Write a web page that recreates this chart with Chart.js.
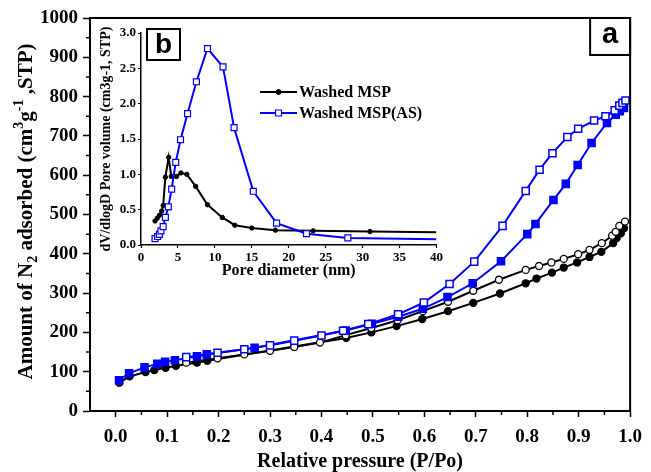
<!DOCTYPE html>
<html>
<head>
<meta charset="utf-8">
<script src="https://cdn.jsdelivr.net/npm/chart.js@4.4.0/dist/chart.umd.min.js"></script>
<style>
  body { margin: 0; background: #fff; }
  #wrap { position: relative; width: 651px; height: 472px; }
  #main { position: absolute; left: 0; top: 0; }
  #inset { position: absolute; left: 95px; top: 20px; }
</style>
</head>
<body>
<div id="wrap">
  <canvas id="main" width="651" height="472"></canvas>
  <canvas id="inset" width="350" height="260"></canvas>
</div>
<script>
// ---- isotherm (main panel a) ----
// Washed MSP, adsorption branch (filled circles)
const pMspAds = [0.007, 0.027, 0.058, 0.075, 0.097, 0.117, 0.158, 0.178, 0.448, 0.497, 0.546, 0.596, 0.646, 0.695, 0.747, 0.797, 0.818, 0.848, 0.871, 0.897, 0.921, 0.944, 0.967, 0.974, 0.982, 0.988];
const vMspAds = [72, 88, 99, 104, 110, 115, 123, 128, 186, 200, 216, 234, 254, 275, 299, 325, 337, 352, 365, 378, 392, 405, 427, 440, 452, 465];
// Washed MSP, desorption branch (open circles)
const pMspDes = [0.137, 0.198, 0.25, 0.30, 0.347, 0.397, 0.447, 0.497, 0.548, 0.597, 0.646, 0.695, 0.745, 0.797, 0.823, 0.847, 0.871, 0.899, 0.921, 0.945, 0.965, 0.972, 0.979, 0.99];
const vMspDes = [123, 134, 144, 153, 163, 174, 193, 211, 231, 254, 278, 306, 334, 359, 369, 378, 387, 399, 410, 427, 446, 456, 471, 482];
// Washed MSP(AS), adsorption branch (filled squares)
const pAsAds = [0.0065, 0.026, 0.056, 0.081, 0.096, 0.115, 0.158, 0.177, 0.27, 0.447, 0.498, 0.549, 0.597, 0.645, 0.694, 0.749, 0.80, 0.816, 0.851, 0.875, 0.898, 0.925, 0.955, 0.972, 0.98, 0.988];
const vAsAds = [78, 96, 111, 120, 125, 129, 139, 144, 161, 205, 222, 240, 260, 290, 325, 381, 450, 476, 537, 578, 626, 682, 733, 754, 763, 771];
// Washed MSP(AS), desorption branch (open squares)
const pAsDes = [0.137, 0.198, 0.25, 0.30, 0.347, 0.40, 0.442, 0.491, 0.549, 0.599, 0.649, 0.697, 0.752, 0.797, 0.824, 0.849, 0.878, 0.899, 0.93, 0.952, 0.97, 0.979, 0.985, 0.991];
const vAsDes = [137, 148, 157, 167, 179, 192, 204, 221, 246, 276, 323, 380, 471, 560, 614, 656, 697, 718, 739, 750, 765, 777, 784, 790];

const xTicksMain = [0, 0.1, 0.2, 0.3, 0.4, 0.5, 0.6, 0.7, 0.8, 0.9, 1.0];
const yTicksMain = [0, 100, 200, 300, 400, 500, 600, 700, 800, 900, 1000];

// ---- pore size distribution (inset b) ----
const dMsp = [1.9, 2.2, 2.5, 2.8, 3.0, 3.3, 3.75, 4.1, 4.8, 5.4, 6.2, 7.4, 9.0, 11.0, 12.7, 15.0, 18.2, 23.3, 31.0, 40];
const psdMsp = [0.34, 0.38, 0.42, 0.48, 0.56, 0.96, 1.24, 0.97, 0.97, 1.02, 1.00, 0.83, 0.57, 0.39, 0.28, 0.24, 0.21, 0.20, 0.19, 0.18];
const dAs = [1.9, 2.25, 2.5, 2.7, 3.0, 3.3, 3.7, 4.15, 4.7, 5.35, 6.3, 7.5, 9.0, 11.1, 12.6, 15.2, 18.35, 22.4, 28.0, 40];
const psdAs = [0.09, 0.12, 0.15, 0.20, 0.26, 0.39, 0.54, 0.79, 1.17, 1.49, 1.86, 2.31, 2.78, 2.52, 1.66, 0.76, 0.31, 0.16, 0.10, 0.08];

const xTicksInset = [0, 5, 10, 15, 20, 25, 30, 35, 40];
const yTicksInset = [0, 0.5, 1.0, 1.5, 2.0, 2.5, 3.0];

const SERIF = "'Liberation Serif', 'Times New Roman', serif";
const SANS = "'Liberation Sans', Arial, sans-serif";
const BLUE = '#0000ff';

function pts(xs, ys) {
  return xs.map((x, i) => ({ x, y: ys[i] }));
}
// midpoints between major ticks
function minors(ticks) {
  return ticks.slice(1).map((v, i) => (v + ticks[i]) / 2);
}

const mainDecor = {
  id: 'mainDecor',
  afterDraw(chart) {
    const { ctx, chartArea: a, scales: { x, y } } = chart;
    ctx.save();
    ctx.strokeStyle = '#000';
    ctx.fillStyle = '#000';
    ctx.lineWidth = 2;
    ctx.strokeRect(a.left, a.top, a.right - a.left, a.bottom - a.top);

    // minor ticks
    ctx.lineWidth = 1.5;
    ctx.beginPath();
    minors(xTicksMain).forEach(v => {
      const px = x.getPixelForValue(v);
      ctx.moveTo(px, a.bottom);
      ctx.lineTo(px, a.bottom + 4);
    });
    minors(yTicksMain).forEach(v => {
      const py = y.getPixelForValue(v);
      ctx.moveTo(a.left, py);
      ctx.lineTo(a.left - 4, py);
    });
    ctx.stroke();

    // panel label "a"
    ctx.lineWidth = 2;
    ctx.strokeRect(a.right - 40, a.top, 40, 37);
    ctx.font = 'bold 29px ' + SANS;
    ctx.textAlign = 'center';
    ctx.textBaseline = 'middle';
    ctx.fillText('a', a.right - 20, a.top + 17);

    // y title with sub/superscripts
    const parts = [
      ['Amount of N', 0], ['2', 1], [' adsorbed (cm', 0], ['3', -1], ['g', 0], ['-1', -1], [' ,STP)', 0]
    ];
    const big = 'bold 21px ' + SERIF, small = 'bold 14px ' + SERIF;
    let total = 0;
    parts.forEach(([t, k]) => { ctx.font = k ? small : big; total += ctx.measureText(t).width; });
    ctx.translate(32, (a.top + a.bottom) / 2 - 3);
    ctx.rotate(-Math.PI / 2);
    ctx.textAlign = 'left';
    ctx.textBaseline = 'alphabetic';
    let cx = -total / 2;
    parts.forEach(([t, k]) => {
      ctx.font = k ? small : big;
      const dy = k === 1 ? 5 : (k === -1 ? -9 : 0);
      ctx.fillText(t, cx, dy);
      cx += ctx.measureText(t).width;
    });
    ctx.restore();
  }
};

const mainChart = new Chart(document.getElementById('main'), {
  type: 'scatter',
  data: {
    datasets: [
      { label: 'Washed MSP(AS) des', data: pts(pAsDes, vAsDes), showLine: true,
        borderColor: BLUE, borderWidth: 2, pointStyle: 'rect', pointRadius: 5,
        pointBackgroundColor: '#fff', pointBorderColor: BLUE, pointBorderWidth: 1.5 },
      { label: 'Washed MSP(AS) ads', data: pts(pAsAds, vAsAds), showLine: true,
        borderColor: BLUE, borderWidth: 2, pointStyle: 'rect', pointRadius: 5,
        pointBackgroundColor: BLUE, pointBorderColor: BLUE, pointBorderWidth: 1.5 },
      { label: 'Washed MSP des', data: pts(pMspDes, vMspDes), showLine: true,
        borderColor: '#000', borderWidth: 2, pointStyle: 'circle', pointRadius: 3.5,
        pointBackgroundColor: '#fff', pointBorderColor: '#000', pointBorderWidth: 1.3 },
      { label: 'Washed MSP ads', data: pts(pMspAds, vMspAds), showLine: true,
        borderColor: '#000', borderWidth: 2, pointStyle: 'circle', pointRadius: 3.5,
        pointBackgroundColor: '#000', pointBorderColor: '#000', pointBorderWidth: 1.3 }
    ]
  },
  options: {
    responsive: false,
    animation: false,
    devicePixelRatio: 1,
    layout: { padding: { top: 18, right: 14, left: 0, bottom: 0 } },
    plugins: { legend: { display: false }, tooltip: { enabled: false } },
    elements: { line: { tension: 0 } },
    scales: {
      x: {
        type: 'linear', min: -0.05, max: 1.0,
        afterBuildTicks: s => { s.ticks = xTicksMain.map(v => ({ value: v })); },
        afterFit: s => { s.height = 61; },
        grid: { drawOnChartArea: false, color: '#000', tickLength: 6, tickWidth: 1.5 },
        border: { color: '#000', width: 2 },
        ticks: { color: '#000', padding: 9, maxRotation: 0, autoSkip: false,
                 font: { family: SERIF, size: 19, weight: 'bold' },
                 callback: v => v.toFixed(1) },
        title: { display: true, text: 'Relative pressure (P/Po)', color: '#000',
                 font: { family: SERIF, size: 20, weight: 'bold' }, padding: { top: 0, bottom: -2 } }
      },
      y: {
        type: 'linear', min: 0, max: 1000,
        afterBuildTicks: s => { s.ticks = yTicksMain.map(v => ({ value: v })); },
        afterFit: s => { s.width = 90; },
        grid: { drawOnChartArea: false, color: '#000', tickLength: 7, tickWidth: 1.5 },
        border: { color: '#000', width: 2 },
        ticks: { color: '#000', padding: 5, autoSkip: false,
                 font: { family: SERIF, size: 19, weight: 'bold' },
                 callback: v => String(v) }
      }
    }
  },
  plugins: [mainDecor]
});

const insetDecor = {
  id: 'insetDecor',
  afterDraw(chart) {
    const { ctx } = chart;
    ctx.save();
    ctx.strokeStyle = '#000';
    ctx.fillStyle = '#000';
    ctx.lineWidth = 2;
    ctx.strokeRect(52, 9, 33, 31);
    ctx.font = 'bold 28px ' + SANS;
    ctx.textAlign = 'center';
    ctx.textBaseline = 'middle';
    ctx.fillText('b', 68.5, 25);

    // legend: black first row, blue second row
    const rows = [chart.data.datasets[1], chart.data.datasets[0]];
    rows.forEach((ds, i) => {
      const yy = 72 + i * 21;
      ctx.strokeStyle = ds.borderColor;
      ctx.lineWidth = ds.borderWidth;
      ctx.beginPath();
      ctx.moveTo(165, yy);
      ctx.lineTo(202, yy);
      ctx.stroke();
      ctx.fillStyle = ds.pointBackgroundColor;
      ctx.strokeStyle = ds.pointBorderColor;
      ctx.lineWidth = ds.pointBorderWidth;
      ctx.beginPath();
      if (ds.pointStyle === 'rect') {
        ctx.rect(183.5 - 3, yy - 3, 6, 6);
      } else {
        ctx.arc(183.5, yy, 2.5, 0, Math.PI * 2);
      }
      ctx.fill();
      ctx.stroke();
      ctx.fillStyle = '#000';
      ctx.font = 'bold 16px ' + SERIF;
      ctx.textAlign = 'left';
      ctx.textBaseline = 'middle';
      ctx.fillText(ds.label, 204, yy + 1);
    });
    ctx.restore();
  }
};

const insetChart = new Chart(document.getElementById('inset'), {
  type: 'scatter',
  data: {
    datasets: [
      { label: 'Washed MSP(AS)', data: pts(dAs, psdAs), showLine: true,
        borderColor: BLUE, borderWidth: 2, pointStyle: 'rect',
        pointRadius: c => (c.dataIndex === dAs.length - 1 ? 0 : 4.2),
        pointBackgroundColor: '#fff', pointBorderColor: BLUE, pointBorderWidth: 1.2 },
      { label: 'Washed MSP', data: pts(dMsp, psdMsp), showLine: true,
        borderColor: '#000', borderWidth: 2, pointStyle: 'circle',
        pointRadius: c => (c.dataIndex === dMsp.length - 1 ? 0 : 2.2),
        pointBackgroundColor: '#000', pointBorderColor: '#000', pointBorderWidth: 1 }
    ]
  },
  options: {
    responsive: false,
    animation: false,
    devicePixelRatio: 1,
    layout: { padding: { top: 13, right: 8, left: 0, bottom: 0 } },
    plugins: { legend: { display: false }, tooltip: { enabled: false } },
    scales: {
      x: {
        type: 'linear', min: 0, max: 40,
        afterBuildTicks: s => { s.ticks = xTicksInset.map(v => ({ value: v })); },
        afterFit: s => { s.height = 35; },
        grid: { drawOnChartArea: false, color: '#000', tickLength: 3, tickWidth: 1.2 },
        border: { color: '#000', width: 1.5 },
        ticks: { color: '#000', padding: 2, maxRotation: 0, autoSkip: false,
                 font: { family: SERIF, size: 13, weight: 'bold' } },
        title: { display: true, text: 'Pore diameter (nm)', color: '#000',
                 font: { family: SERIF, size: 16, weight: 'bold' }, padding: { top: 0, bottom: 0 } }
      },
      y: {
        type: 'linear', min: 0, max: 3,
        afterBuildTicks: s => { s.ticks = yTicksInset.map(v => ({ value: v })); },
        afterFit: s => { s.width = 46; },
        grid: { drawOnChartArea: false, color: '#000', tickLength: 3, tickWidth: 1.2 },
        border: { color: '#000', width: 1.5 },
        ticks: { color: '#000', padding: 2, autoSkip: false,
                 font: { family: SERIF, size: 13, weight: 'bold' },
                 callback: v => v.toFixed(1) },
        title: { display: true, text: 'dV/dlogD Pore volume (cm3g-1, STP)', color: '#000',
                 font: { family: SERIF, size: 14, weight: 'bold' }, padding: { top: 3, bottom: 0 } }
      }
    }
  },
  plugins: [insetDecor]
});
</script>
</body>
</html>
